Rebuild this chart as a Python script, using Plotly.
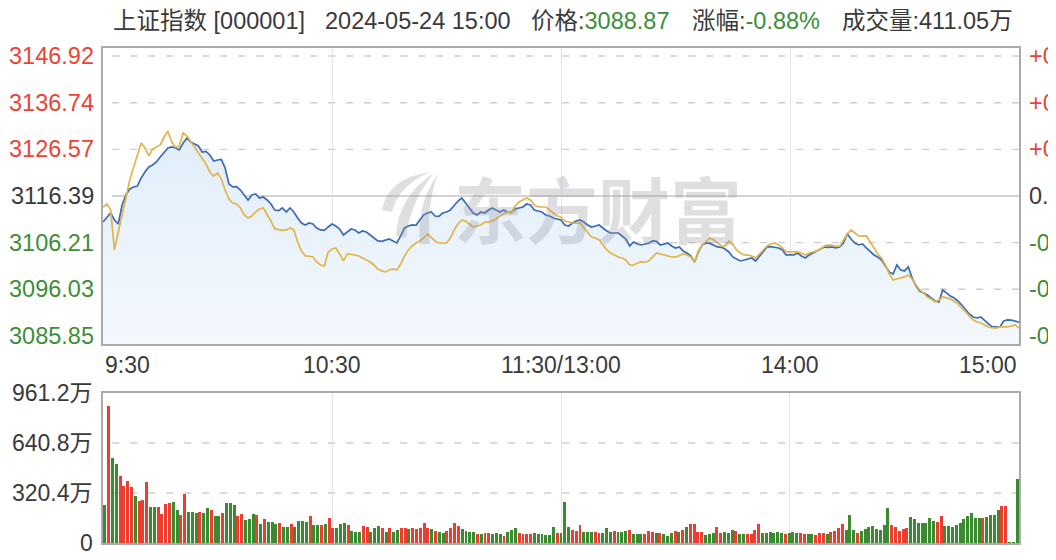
import plotly.graph_objects as go

# ---------------- data ----------------
minutes = list(range(241))  # 9:30 .. 11:30 | 13:00 .. 15:00 (one point per minute)

price = [
3110.72,3111.59,3112.68,3111.16,3110.29,3114.43,3116.61,3117.92,3118.36,3118.57,
3120.32,3121.63,3122.72,3123.15,3123.81,3124.90,3125.99,3126.86,3127.08,3126.86,
3126.43,3127.95,3129.04,3128.17,3127.73,3127.30,3125.99,3126.10,3125.33,3124.03,
3124.24,3124.35,3122.50,3119.01,3118.36,3118.45,3117.70,3116.61,3115.52,3116.61,
3116.83,3115.96,3116.17,3115.52,3114.65,3113.34,3113.20,3113.78,3112.90,3113.78,
3112.90,3111.59,3110.50,3110.07,3110.50,3110.29,3109.41,3108.98,3108.90,3109.63,
3110.29,3109.85,3109.20,3107.89,3108.54,3109.20,3108.98,3108.32,3108.76,3108.54,
3107.89,3107.23,3106.58,3106.50,3106.80,3107.01,3106.58,3106.14,3107.67,3109.41,
3109.85,3110.07,3110.00,3111.16,3112.25,3112.68,3112.90,3112.03,3111.95,3112.68,
3112.90,3113.34,3114.43,3115.30,3115.96,3114.87,3113.78,3112.68,3112.25,3112.90,
3112.68,3113.34,3113.78,3113.34,3112.90,3113.34,3112.90,3112.80,3113.56,3113.78,
3113.99,3114.65,3114.43,3113.34,3113.12,3112.90,3112.25,3112.03,3111.59,3111.38,
3111.16,3110.07,3109.85,3110.50,3110.94,3111.16,3110.72,3110.07,3109.63,3109.85,
3110.07,3109.41,3108.76,3108.32,3108.25,3108.32,3107.67,3107.01,3105.49,3106.36,
3105.92,3105.71,3105.92,3106.14,3106.58,3106.50,3105.71,3105.92,3106.14,3105.49,
3105.05,3105.27,3104.40,3103.96,3103.31,3102.00,3104.18,3105.71,3106.14,3106.05,
3105.71,3105.27,3105.20,3104.83,3104.18,3103.09,3102.65,3102.22,3102.43,3102.65,
3102.87,3102.22,3103.31,3104.40,3105.27,3105.35,3105.27,3105.05,3104.62,3103.52,
3103.60,3103.52,3103.96,3103.31,3102.87,3103.52,3103.96,3104.40,3104.83,3105.27,
3105.20,3105.27,3105.05,3105.27,3106.14,3108.11,3107.01,3106.14,3105.71,3105.92,
3105.05,3104.18,3103.52,3103.09,3102.43,3101.13,3099.82,3099.38,3101.34,3100.25,
3100.04,3100.91,3098.51,3096.76,3095.67,3095.24,3094.80,3094.15,3093.49,3093.27,
3095.89,3095.24,3094.58,3094.15,3093.49,3092.62,3091.53,3090.66,3090.00,3089.78,
3090.00,3089.13,3088.48,3087.82,3087.75,3087.82,3089.13,3089.35,3089.30,3089.13,
3088.87]

avg_line = [
3113.99,3114.65,3113.34,3104.62,3108.54,3112.03,3115.96,3119.88,3122.50,3125.33,
3127.95,3126.86,3125.12,3126.64,3127.08,3127.52,3129.26,3130.57,3128.17,3127.08,
3127.30,3130.13,3129.48,3128.39,3127.08,3125.77,3124.46,3123.37,3121.63,3120.75,
3121.41,3120.10,3117.70,3115.74,3114.87,3114.65,3113.78,3112.25,3111.59,3112.03,
3112.90,3113.56,3113.78,3112.47,3110.94,3109.20,3108.98,3108.90,3108.98,3109.41,
3108.98,3106.36,3104.40,3103.31,3103.25,3103.09,3102.00,3101.34,3101.13,3104.18,
3104.83,3105.05,3103.74,3102.22,3103.74,3103.70,3103.52,3103.31,3102.87,3102.43,
3102.00,3101.34,3100.47,3100.04,3099.82,3100.25,3100.47,3100.25,3101.56,3103.31,
3104.62,3105.49,3106.14,3106.58,3107.23,3108.11,3107.45,3106.58,3106.14,3106.10,
3106.14,3107.23,3108.98,3110.29,3111.16,3110.94,3110.29,3109.63,3109.85,3110.07,
3110.72,3110.70,3110.94,3111.38,3112.03,3112.47,3112.90,3112.68,3114.21,3115.08,
3115.52,3115.96,3115.52,3114.43,3113.99,3113.95,3113.99,3113.34,3112.68,3112.03,
3111.81,3110.94,3110.72,3110.50,3110.45,3110.50,3109.41,3108.32,3107.45,3107.23,
3106.80,3105.71,3104.62,3103.96,3103.52,3103.09,3102.87,3102.43,3101.34,3101.30,
3101.78,3102.00,3101.95,3102.22,3103.09,3103.96,3103.74,3103.52,3103.31,3103.09,
3103.05,3103.31,3103.74,3103.52,3103.09,3102.00,3104.40,3105.71,3106.58,3107.23,
3106.80,3106.14,3105.49,3105.45,3106.58,3105.92,3104.62,3103.96,3103.52,3103.50,
3103.31,3102.87,3103.74,3104.83,3105.49,3105.92,3106.14,3105.71,3105.05,3104.18,
3104.15,3104.18,3104.20,3103.96,3103.52,3103.96,3104.18,3104.40,3104.83,3105.49,
3105.71,3105.68,3105.49,3105.45,3106.80,3108.11,3108.98,3108.32,3107.67,3107.65,
3107.67,3106.36,3105.05,3103.74,3102.87,3101.34,3099.38,3098.07,3098.29,3098.51,
3098.73,3099.16,3098.29,3096.98,3095.89,3095.24,3094.36,3093.93,3093.27,3093.71,
3094.36,3094.15,3093.93,3093.49,3092.84,3091.97,3091.09,3090.22,3089.35,3088.91,
3088.69,3088.26,3087.82,3087.60,3087.58,3087.82,3087.80,3087.82,3088.04,3088.26,
3087.60]

# volume in 万 (10k lots)
volume = [
243,878,543,504,429,365,397,357,301,269,
276,391,229,229,229,186,248,254,263,212,
179,314,201,201,195,201,190,222,212,173,
173,194,258,258,244,175,186,147,152,184,
179,122,152,137,132,122,130,105,105,122,
105,143,143,137,173,115,115,115,122,158,
98,98,122,130,115,79,73,73,109,105,
68,94,109,98,73,94,73,83,94,94,
88,94,90,94,130,94,88,77,73,66,
77,94,130,109,88,77,73,68,58,55,
62,66,58,62,58,47,68,83,94,62,
58,58,58,62,58,58,51,51,100,62,
62,261,100,83,77,115,73,68,68,68,
62,62,98,73,77,68,73,77,83,58,
58,58,58,77,68,62,62,58,47,62,
77,73,83,105,122,120,68,68,51,55,
66,105,62,68,62,83,79,55,60,55,
55,83,120,62,62,68,62,68,62,58,
62,68,62,62,55,55,58,51,66,66,
55,68,77,94,122,83,179,83,66,77,
90,100,109,88,83,115,222,115,105,77,
88,98,169,152,126,126,126,158,143,137,
173,109,109,105,118,130,152,175,194,158,
158,158,169,179,179,212,237,237,4,4,
411.05]

# bar direction: r = up (red), g = down (green)
direction = (
"g r g g r r r r g r "
"r r g g r r r r g g "
"r r g g g r g g r g "
"g r g g g r r g g g "
"r g r g g g r g g r "
"g g g g r g g r g r "
"r g g g r g g g r r "
"g g g r g r g g r r "
"g r r r r r g r g g "
"r r r r g g g g r g "
"r r g g g r g g g r "
"r r r g g g g g g r "
"g g g r r r g g g r "
"r g g g r g g g r g "
"g g r r r g r g g g "
"r g r g r r r r g g "
"g r r g g g r g g r "
"r r r g g g g g g r "
"g g g r r g g r r r "
"g r r r r g g g r g "
"g g g g g g g r r r "
"r r g g g g g g g r "
"r g g g g g g g g g "
"g r g g g g r r g g "
"g").split()

prev_close = 3116.39
price_ticks = [3146.92, 3136.74, 3126.57, 3116.39, 3106.21, 3096.03, 3085.85]
pct_labels = ["+0.98%", "+0.65%", "+0.33%", "0.00%", "-0.33%", "-0.65%", "-0.98%"]
price_range = [3084.10, 3148.68]
vol_ticks = [961.2, 640.8, 320.4, 0]
vol_labels = ["961.2万", "640.8万", "320.4万", "0"]
time_ticks = [0, 60, 120, 180, 240]
time_labels = ["9:30", "10:30", "11:30/13:00", "14:00", "15:00"]
header_parts = ["上证指数 [000001]", "2024-05-24 15:00", "价格:", "3088.87", "涨幅:", "-0.88%", "成交量:411.05万"]
watermark_text = "东方财富"

# ---------------- style ----------------
# the page body has an 8px margin; positions below are in screenshot pixels
OFF = 8
W, H = 1056 - OFF, 560 - OFF
L_PX, R_PX = 103, 1019
P_TOP, P_BOT = 48, 344
V_TOP, V_BOT = 393, 543
RED = "#ec3d2f"
GREEN = "#3a8a30"
LBL_RED = "#ea4436"
LBL_GREEN = "#3c8f37"
GRAY_TXT = "#3a3a3a"
FONT = "Liberation Sans, Arial, Noto Sans CJK SC, sans-serif"
WM_COLOR = "rgba(150,150,160,0.30)"

def px_x(p):
    return (p - OFF) / W

def px_y(p):
    return 1 - (p - OFF) / H

fig = go.Figure()

fig.add_trace(go.Scatter(
    x=minutes, y=price, mode="lines", xaxis="x", yaxis="y",
    line=dict(color="#3b6cb4", width=1.7),
    fill="tozeroy",
    fillgradient=dict(type="vertical",
                      colorscale=[[0, "#f3f8fd"], [1, "#e1eefa"]],
                      start=price_range[0], stop=3130.0),
    hoverinfo="skip", showlegend=False))
fig.add_trace(go.Scatter(
    x=minutes, y=avg_line, mode="lines", xaxis="x", yaxis="y",
    line=dict(color="#e2b44a", width=1.7),
    hoverinfo="skip", showlegend=False))

bar_colors = [RED if d == "r" else GREEN for d in direction]
fig.add_trace(go.Bar(
    x=minutes, y=volume, xaxis="x2", yaxis="y2",
    marker=dict(color=bar_colors, line=dict(width=0)),
    width=0.78, hoverinfo="skip", showlegend=False))

frame = dict(showline=True, mirror=True, linecolor="#ababab", linewidth=2)

fig.update_layout(
    width=W, height=H, autosize=False,
    margin=dict(l=0, r=0, t=0, b=0),
    paper_bgcolor="white", plot_bgcolor="white",
    bargap=0,
    xaxis=dict(domain=[px_x(L_PX), px_x(R_PX)], range=[0, 240],
               anchor="y", showticklabels=False, ticks="",
               tickvals=time_ticks[1:-1], showgrid=True,
               gridcolor="#e4e4e4", gridwidth=1, zeroline=False, **frame),
    yaxis=dict(domain=[px_y(P_BOT), px_y(P_TOP)], range=price_range,
               anchor="x", showticklabels=False, ticks="", showgrid=False,
               zeroline=False, **frame),
    xaxis2=dict(domain=[px_x(L_PX), px_x(R_PX)], range=[-0.5, 240.5],
                anchor="y2", showticklabels=False, ticks="",
                tickvals=time_ticks[1:-1], showgrid=True,
                gridcolor="#e4e4e4", gridwidth=1, zeroline=False, **frame),
    yaxis2=dict(domain=[px_y(V_BOT), px_y(V_TOP)], range=[0, vol_ticks[0]],
                anchor="x2", showticklabels=False, ticks="", showgrid=False,
                zeroline=False, **frame),
)

# horizontal gridlines (price)
for v in price_ticks:
    if v == prev_close:
        ln = dict(color="#c4c4c4", width=1.6)
    else:
        ln = dict(color="#cdcdcd", width=1.4, dash="7px,11px")
    fig.add_shape(type="line", xref="x domain", yref="y", x0=0.01, x1=1,
                  y0=v, y1=v, line=ln, layer="below")
for v in vol_ticks[1:-1]:
    fig.add_shape(type="line", xref="x2 domain", yref="y2", x0=0.01, x1=1,
                  y0=v, y1=v, line=dict(color="#cdcdcd", width=1.4, dash="7px,11px"),
                  layer="below")

# watermark logo: three swept feather strokes (decoration only)
def pxpath(pts):
    (ax, ay), (c1x, c1y), (bx, by), (dx, dy), (c2x, c2y) = pts
    f = lambda x, y: f"{px_x(x):.5f},{px_y(y):.5f}"
    return f"M {f(ax, ay)} Q {f(c1x, c1y)} {f(bx, by)} L {f(dx, dy)} Q {f(c2x, c2y)} {f(ax, ay)} Z"

feathers = [
    [(430, 172), (388, 178), (382, 210), (392, 212), (398, 186)],
    [(434, 173), (398, 196), (396, 236), (406, 238), (410, 202)],
    [(438, 174), (416, 204), (420, 244), (430, 244), (426, 206)],
]
for pts in feathers:
    fig.add_shape(type="path", xref="paper", yref="paper", path=pxpath(pts),
                  fillcolor=WM_COLOR, line=dict(width=0), layer="above")

anns = []
# left price labels + right percent labels
for v, p in zip(price_ticks, pct_labels):
    col = LBL_RED if v > prev_close else (GRAY_TXT if v == prev_close else LBL_GREEN)
    anns.append(dict(xref="paper", yref="y", x=px_x(96), y=v, text=f"{v:.2f}",
                     xanchor="right", yanchor="middle", showarrow=False,
                     font=dict(size=23.5, color=col, family=FONT)))
    anns.append(dict(xref="paper", yref="y", x=px_x(1027), y=v, text=p,
                     xanchor="left", yanchor="middle", showarrow=False,
                     font=dict(size=23.5, color=col, family=FONT)))
# volume labels
for v, t in zip(vol_ticks, vol_labels):
    anns.append(dict(xref="paper", yref="y2", x=px_x(95), y=v, text=t,
                     xanchor="right", yanchor="middle", showarrow=False,
                     font=dict(size=23, color=GRAY_TXT, family=FONT)))
# time labels
for i, (t, lab) in enumerate(zip(time_ticks, time_labels)):
    xa = "left" if i == 0 else ("right" if i == len(time_ticks) - 1 else "center")
    anns.append(dict(xref="x", yref="paper", x=t, y=px_y(365), text=lab,
                     xanchor=xa, yanchor="middle", showarrow=False,
                     font=dict(size=23, color=GRAY_TXT, family=FONT)))
# header
hdr_font = dict(size=23.5, color=GRAY_TXT, family=FONT)
hdr = [
    (111, header_parts[0]),
    (323, header_parts[1]),
    (529, header_parts[2] + f"<span style='color:{LBL_GREEN}'>" + header_parts[3] + "</span>"),
    (690, header_parts[4] + f"<span style='color:{LBL_GREEN}'>" + header_parts[5] + "</span>"),
    (840, header_parts[6]),
]
for xp, txt in hdr:
    anns.append(dict(xref="paper", yref="paper", x=px_x(xp), y=px_y(21), text=txt,
                     xanchor="left", yanchor="middle", showarrow=False, font=hdr_font))
# watermark text
anns.append(dict(xref="paper", yref="paper", x=px_x(598), y=px_y(206),
                 text=f"<b>{watermark_text}</b>",
                 xanchor="center", yanchor="middle", showarrow=False,
                 font=dict(size=72, color=WM_COLOR,
                           family="Noto Sans CJK SC, sans-serif")))
fig.update_layout(annotations=anns)

fig.write_html("out.html")
